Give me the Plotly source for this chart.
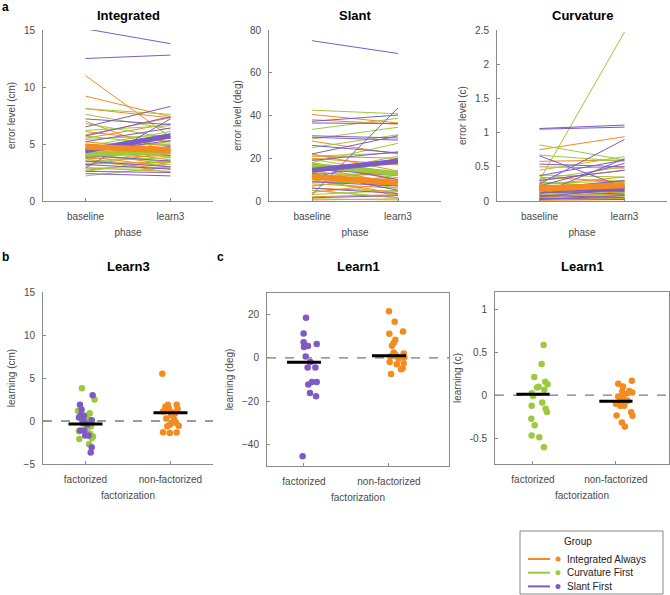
import plotly.graph_objects as go

W, H = 670, 595
FONT = "Liberation Sans, Arial, Helvetica, sans-serif"
ORANGE = "#F58A1F"
GREEN = "#9BCB3B"
PURPLE = "#7E5BC4"
AXC = "#8a8a8a"
TXC = "#4a4a4a"

groups = ["Integrated Always", "Curvature First", "Slant First"]
phase_labels = ["baseline", "learn3"]
fact_labels = ["factorized", "non-factorized"]

# ---------------- Panel a: Integrated (cm) ----------------
int_orange_base = [11.0, 9.2, 8.1, 7.0, 6.1, 5.8, 5.5, 5.2, 5.0, 4.8, 4.6, 4.4, 4.2, 4.0, 3.9, 3.7, 3.5, 3.3, 3.1, 2.9, 2.7]
int_orange_l3 = [5.6, 7.4, 7.3, 4.2, 5.2, 7.3, 6.8, 4.5, 3.8, 5.0, 3.6, 4.9, 3.2, 4.6, 3.0, 4.0, 2.8, 3.4, 4.3, 2.6, 3.5]
int_green_base = [8.1, 7.6, 6.8, 6.2, 5.7, 5.4, 5.0, 4.8, 4.5, 4.3, 4.1, 3.9, 3.7, 3.5, 3.3, 3.1, 2.9, 2.6, 2.2]
int_green_l3 = [7.6, 6.3, 5.5, 6.6, 4.9, 5.8, 4.2, 6.1, 3.9, 5.2, 3.4, 4.4, 2.5, 3.8, 3.2, 4.7, 2.9, 3.6, 3.0]
int_purple_base = [15.1, 12.5, 7.2, 6.5, 5.7, 5.2, 4.9, 4.6, 4.3, 4.0, 3.8, 3.5, 3.2, 2.9, 2.6, 2.4]
int_purple_l3 = [13.8, 12.8, 6.7, 8.3, 7.4, 6.4, 4.0, 5.9, 5.3, 3.5, 4.8, 3.0, 2.8, 7.2, 2.5, 2.2]
int_mean_orange = [4.75, 4.45]
int_mean_green = [4.1, 4.3]
int_mean_purple = [4.4, 5.7]

# ---------------- Panel a: Slant (deg) ----------------
sl_orange_base = [40.5, 38, 28, 22, 21, 20, 18, 16, 14.5, 13, 12, 11, 10, 9, 8, 7, 6, 5, 4, 2, 0.5]
sl_orange_l3 = [36.5, 36, 22, 14, 20, 17, 10, 8, 19, 12, 7, 13, 3.5, 9, 6, 11, 4.5, 1.5, 8.5, 3, 1]
sl_green_base = [42.5, 33.5, 29, 25, 21, 19.5, 18, 16.5, 15, 14, 13, 12, 11, 10, 9, 7, 5, 3, 1]
sl_green_l3 = [40.8, 38.7, 34.5, 31, 22.5, 13, 27, 12, 17.5, 9, 21, 6, 14, 2.5, 8, 12, 1.5, 5, 0.5]
sl_purple_base = [75, 37.3, 36.5, 30.5, 29.8, 26, 22, 19, 17, 15, 13, 11, 9, 6, 3, 1.5]
sl_purple_l3 = [69, 40.2, 36.2, 29.5, 28.5, 22.5, 30.5, 23, 10, 12, 5, 20, 7, 3.5, 43.5, 2.5]
sl_mean_orange = [11.3, 8.5]
sl_mean_green = [16.7, 12.9]
sl_mean_purple = [14.4, 18.6]

# ---------------- Panel a: Curvature (c) ----------------
cu_orange_base = [0.75, 0.58, 0.5, 0.35, 0.3, 0.27, 0.24, 0.21, 0.19, 0.17, 0.15, 0.13, 0.11, 0.1, 0.08, 0.07, 0.05, 0.04, 0.03, 0.02, 0.01]
cu_orange_l3 = [0.94, 0.6, 0.48, 0.28, 0.45, 0.2, 0.35, 0.27, 0.12, 0.23, 0.3, 0.08, 0.18, 0.05, 0.22, 0.1, 0.14, 0.03, 0.06, 0.04, 0.02]
cu_green_base = [0.82, 0.67, 0.45, 0.38, 0.32, 0.3, 0.28, 0.25, 0.22, 0.2, 0.18, 0.15, 0.13, 0.11, 0.09, 0.07, 0.05, 0.03, 0.02]
cu_green_l3 = [0.6, 0.58, 0.65, 0.35, 0.5, 2.47, 0.2, 0.3, 0.12, 0.25, 0.22, 0.1, 0.28, 0.15, 0.08, 0.18, 0.05, 0.12, 0.03]
cu_purple_base = [1.06, 1.05, 0.66, 0.54, 0.37, 0.3, 0.25, 0.22, 0.18, 0.15, 0.12, 0.1, 0.08, 0.06, 0.04, 0.02]
cu_purple_l3 = [1.11, 1.08, 0.2, 0.5, 0.6, 0.45, 0.9, 0.55, 0.3, 0.1, 0.15, 0.62, 0.05, 0.18, 0.02, 0.08]
cu_mean_orange = [0.18, 0.23]
cu_mean_green = [0.2, 0.21]
cu_mean_purple = [0.19, 0.17]

# ---------------- Panel b: Learn3 learning (cm) ----------------
b_green = [3.8, 2.5, 1.2, 0.9, 0.6, 0.2, -0.1, -0.6, -0.8, -1.2, -1.5, -1.8, -2.0, -2.1, -2.7, -0.3, 0.4, -1.0, 1.0]
b_green_jit = [-0.042, 0.107, -0.088, 0.05, -0.008, 0.038, 0.069, 0.065, 0.027, -0.077, 0.057, 0.088, 0.073, -0.073, 0.042, -0.027, -0.054, 0.011, -0.061]
b_purple = [3.0, 1.9, 1.35, 0.7, 0.6, 0.4, 0.1, -0.1, -0.4, -1.1, -1.1, -1.7, -1.7, -3.05, -3.65, -0.2]
b_purple_jit = [0.084, -0.065, -0.046, -0.054, -0.019, -0.077, 0.073, -0.015, 0.023, -0.061, -0.015, -0.004, 0.038, 0.073, 0.061, -0.031]
b_orange = [5.5, 1.9, 1.9, 1.65, 1.45, 1.4, 1.1, 1.0, 0.7, 0.3, 0.1, -0.2, -0.6, -0.55, -1.3, -1.4, -1.35, 1.2, 0.9, -0.4, 0.5]
b_orange_jit = [-0.096, -0.031, 0.073, -0.061, -0.019, 0.084, -0.088, 0.027, 0.008, -0.05, 0.046, 0.065, -0.038, 0.096, -0.088, -0.008, 0.073, -0.069, 0.054, -0.004, 0.034]
b_means = [-0.35, 0.95]

# ---------------- Panel c: Learn1 learning (deg) ----------------
c1_purple = [18.6, 11.25, 7.2, 6.4, 5.5, 5.0, 0.6, -1.9, -4.5, -4.5, -11.1, -11.1, -12.3, -16.25, -17.8, -45.5]
c1_purple_jit = [0.024, -0.004, -0.004, 0.15, 0.047, 0.0, 0.02, 0.075, 0.043, 0.134, 0.094, 0.15, 0.051, 0.071, 0.142, -0.016]
c1_orange = [21.6, 16.7, 11.1, 12.2, 8.4, 6.9, 5.6, 2.5, 2.0, 0.6, 1.2, -1.9, -3.0, -2.5, -4.8, -5.3, -7.5, 0.3, 0.6, -0.3, 1.9]
c1_orange_jit = [0.0, 0.067, 0.004, 0.165, 0.075, 0.055, 0.035, 0.055, 0.173, 0.016, 0.083, 0.008, 0.091, 0.173, 0.161, 0.142, 0.024, 0.181, 0.094, 0.114, 0.059]
c1_means = [-2.0, 1.0]

# ---------------- Panel c: Learn1 learning (c) ----------------
c2_green = [0.585, 0.364, 0.213, 0.155, 0.128, 0.097, 0.089, 0.062, 0.023, -0.008, -0.085, -0.124, -0.159, -0.194, -0.275, -0.349, -0.469, -0.488, -0.605]
c2_green_jit = [0.128, 0.104, 0.016, 0.148, 0.176, 0.068, 0.048, 0.136, -0.016, 0.0, 0.112, -0.016, 0.152, 0.168, -0.02, 0.02, -0.016, 0.076, 0.132]
c2_orange = [0.167, 0.132, 0.1, 0.05, 0.031, 0.043, -0.016, -0.081, -0.066, -0.124, -0.124, -0.198, -0.236, -0.24, -0.318, -0.364, -0.047, -0.062, -0.08, 0.012, -0.1]
c2_orange_jit = [0.192, 0.028, 0.084, 0.16, 0.196, 0.076, 0.028, 0.072, 0.128, 0.052, 0.1, 0.184, 0.008, 0.2, 0.072, 0.108, 0.08, 0.14, 0.048, 0.108, 0.0]
c2_means = [0.01, -0.07]

fig = go.Figure()


def px_x(a, b):
    return [a / W, b / W]


def px_y(top, bottom):
    return [1 - bottom / H, 1 - top / H]


def pair_lines(base, l3):
    xs, ys = [], []
    for b0, b1 in zip(base, l3):
        xs += [1, 2, None]
        ys += [b0, b1, None]
    return xs, ys


def add_phase_panel(n, sets, means):
    xa = "x" if n == 1 else f"x{n}"
    ya = "y" if n == 1 else f"y{n}"
    for (base, l3, col) in sets:
        xs, ys = pair_lines(base, l3)
        fig.add_trace(go.Scatter(x=xs, y=ys, mode="lines", line=dict(color=col, width=1),
                                 xaxis=xa, yaxis=ya, showlegend=False, hoverinfo="skip"))
    for (m, col, w) in means:
        fig.add_trace(go.Scatter(x=[1, 2], y=m, mode="lines", line=dict(color=col, width=w),
                                 xaxis=xa, yaxis=ya, showlegend=False, hoverinfo="skip"))


add_phase_panel(1, [(int_orange_base, int_orange_l3, ORANGE), (int_green_base, int_green_l3, GREEN),
                    (int_purple_base, int_purple_l3, PURPLE)],
                [(int_mean_green, GREEN, 5), (int_mean_purple, PURPLE, 5), (int_mean_orange, ORANGE, 6)])
add_phase_panel(2, [(sl_orange_base, sl_orange_l3, ORANGE), (sl_green_base, sl_green_l3, GREEN),
                    (sl_purple_base, sl_purple_l3, PURPLE)],
                [(sl_mean_green, GREEN, 5), (sl_mean_purple, PURPLE, 5), (sl_mean_orange, ORANGE, 6)])
add_phase_panel(3, [(cu_orange_base, cu_orange_l3, ORANGE), (cu_green_base, cu_green_l3, GREEN),
                    (cu_purple_base, cu_purple_l3, PURPLE)],
                [(cu_mean_green, GREEN, 5), (cu_mean_purple, PURPLE, 5), (cu_mean_orange, ORANGE, 6)])


def add_dots(n, pos, vals, jit, col):
    fig.add_trace(go.Scatter(x=[pos + j for j in jit], y=vals, mode="markers",
                             marker=dict(color=col, size=6.5, line=dict(width=0)),
                             xaxis=f"x{n}", yaxis=f"y{n}", showlegend=False, hoverinfo="skip"))


def add_means(n, means):
    for i, m in enumerate(means):
        fig.add_trace(go.Scatter(x=[i + 1 - 0.2, i + 1 + 0.2], y=[m, m], mode="lines",
                                 line=dict(color="black", width=3),
                                 xaxis=f"x{n}", yaxis=f"y{n}", showlegend=False, hoverinfo="skip"))


def zero_line(n):
    fig.add_shape(type="line", xref=f"x{n} domain", yref=f"y{n}", x0=0, x1=1, y0=0, y1=0,
                  line=dict(color="#7a7a7a", width=1.3, dash="dash"), layer="below")


# panel b
zero_line(4)
add_dots(4, 1, b_green, b_green_jit, GREEN)
add_dots(4, 1, b_purple, b_purple_jit, PURPLE)
add_dots(4, 2, b_orange, b_orange_jit, ORANGE)
add_means(4, b_means)
# panel c1
zero_line(5)
add_dots(5, 1, c1_purple, c1_purple_jit, PURPLE)
add_dots(5, 2, c1_orange, c1_orange_jit, ORANGE)
add_means(5, c1_means)
# panel c2
zero_line(6)
add_dots(6, 1, c2_green, c2_green_jit, GREEN)
add_dots(6, 2, c2_orange, c2_orange_jit, ORANGE)
add_means(6, c2_means)

tickfont = dict(family=FONT, size=10, color=TXC)
titlefont = dict(family=FONT, size=10, color=TXC)


def xax(domain, rng, labels, title, standoff, mirror=False):
    return dict(domain=domain, range=rng, tickvals=[1, 2], ticktext=labels, showline=True,
                linecolor=AXC, linewidth=1, mirror=mirror, ticks="inside", ticklen=3, tickcolor=AXC,
                showgrid=False, zeroline=False, tickfont=tickfont, automargin=False,
                ticklabelstandoff=6,
                title=dict(text=title, font=titlefont, standoff=standoff), fixedrange=True)


def yax(domain, rng, tickvals, title, mirror=False, ticktext=None):
    d = dict(domain=domain, range=rng, tickvals=tickvals, showline=True, linecolor=AXC, linewidth=1,
             mirror=mirror, ticks="inside", ticklen=3, tickcolor=AXC, showgrid=False, zeroline=False,
             tickfont=tickfont, automargin=False, ticklabelstandoff=5,
             title=dict(text=title, font=titlefont, standoff=6), fixedrange=True)
    if ticktext is not None:
        d["ticktext"] = ticktext
    return d


ya_dom = px_y(30, 201)
yb_dom = px_y(292, 464)
yc1_dom = px_y(293, 466)

layout = dict(
    width=W, height=H, margin=dict(l=0, r=0, t=0, b=0), autosize=False,
    paper_bgcolor="white", plot_bgcolor="white", showlegend=False,
    font=dict(family=FONT, size=10, color=TXC),
    xaxis=xax(px_x(43, 213), [0.5, 2.5], phase_labels, "phase", 7),
    yaxis=yax(ya_dom, [0, 15], [0, 5, 10, 15], "error level (cm)"),
    xaxis2=xax(px_x(269, 441), [0.5, 2.5], phase_labels, "phase", 7),
    yaxis2=yax(ya_dom, [0, 80], [0, 20, 40, 60, 80], "error level (deg)"),
    xaxis3=xax(px_x(497, 667), [0.5, 2.5], phase_labels, "phase", 7),
    yaxis3=yax(ya_dom, [0, 2.5], [0, 0.5, 1, 1.5, 2, 2.5], "error level (c)",
               ticktext=["0", "0.5", "1", "1.5", "2", "2.5"]),
    xaxis4=xax(px_x(43, 213), [0.5, 2.5], fact_labels, "factorization", 7),
    yaxis4=yax(yb_dom, [-5, 15], [-5, 0, 5, 10, 15], "learning (cm)"),
    xaxis5=xax(px_x(267, 449), [0.565, 2.706], fact_labels, "factorization", 7, mirror=True),
    yaxis5=yax(yc1_dom, [-50, 30], [-40, -20, 0, 20], "learning (deg)", mirror=True),
    xaxis6=xax(px_x(495, 669), [0.542, 2.64], fact_labels, "factorization", 7, mirror=True),
    yaxis6=yax(yb_dom, [-0.8, 1.2], [-0.5, 0, 0.5, 1], "learning (c)", mirror=True,
               ticktext=["-0.5", "0", "0.5", "1"]),
)
layout["xaxis"]["anchor"] = "y"
layout["yaxis"]["anchor"] = "x"
for i in range(2, 7):
    layout[f"xaxis{i}"]["anchor"] = f"y{i}"
    layout[f"yaxis{i}"]["anchor"] = f"x{i}"
fig.update_layout(**layout)

ann = []
titles = [("Integrated", 128, 15), ("Slant", 355, 15), ("Curvature", 582, 15),
          ("Learn3", 128, 266), ("Learn1", 358, 266), ("Learn1", 582, 266)]
for t, x, y in titles:
    ann.append(dict(text=f"<b>{t}</b>", x=x / W, y=1 - y / H, xref="paper", yref="paper",
                    xanchor="center", yanchor="middle", showarrow=False,
                    font=dict(family=FONT, size=13, color="black")))
for t, x, y in [("a", 5, 7), ("b", 5, 257), ("c", 220, 257)]:
    ann.append(dict(text=f"<b>{t}</b>", x=x / W, y=1 - y / H, xref="paper", yref="paper",
                    xanchor="center", yanchor="middle", showarrow=False,
                    font=dict(family=FONT, size=12, color="black")))

# ---- legend box (Group) ----
LEG_X0, LEG_X1, LEG_Y0, LEG_Y1 = 520, 663, 531, 594
fig.add_shape(type="rect", xref="paper", yref="paper", x0=LEG_X0 / W, x1=LEG_X1 / W,
              y0=1 - LEG_Y1 / H, y1=1 - LEG_Y0 / H, line=dict(color="#888888", width=1),
              fillcolor="white")
ann.append(dict(text="Group", x=578 / W, y=1 - 541 / H, xref="paper", yref="paper",
                xanchor="center", yanchor="middle", showarrow=False,
                font=dict(family=FONT, size=10, color="#222")))
for i, (g, col) in enumerate(zip(groups, [ORANGE, GREEN, PURPLE])):
    yy = 1 - (559 + 13.7 * i) / H
    fig.add_shape(type="line", xref="paper", yref="paper", x0=528 / W, x1=550 / W, y0=yy, y1=yy,
                  line=dict(color=col, width=2))
    fig.add_shape(type="circle", xref="paper", yref="paper", x0=555.5 / W, x1=560.5 / W,
                  y0=yy - 2.5 / H, y1=yy + 2.5 / H, line=dict(width=0), fillcolor=col)
    ann.append(dict(text=g, x=565 / W, y=yy, xref="paper", yref="paper", xanchor="left",
                    yanchor="middle", showarrow=False, font=dict(family=FONT, size=10, color="#222")))
fig.update_layout(annotations=ann)

fig.write_html("out.html", config={"displayModeBar": False},
               post_script="document.body.style.margin='0';document.body.style.overflow='hidden';")
